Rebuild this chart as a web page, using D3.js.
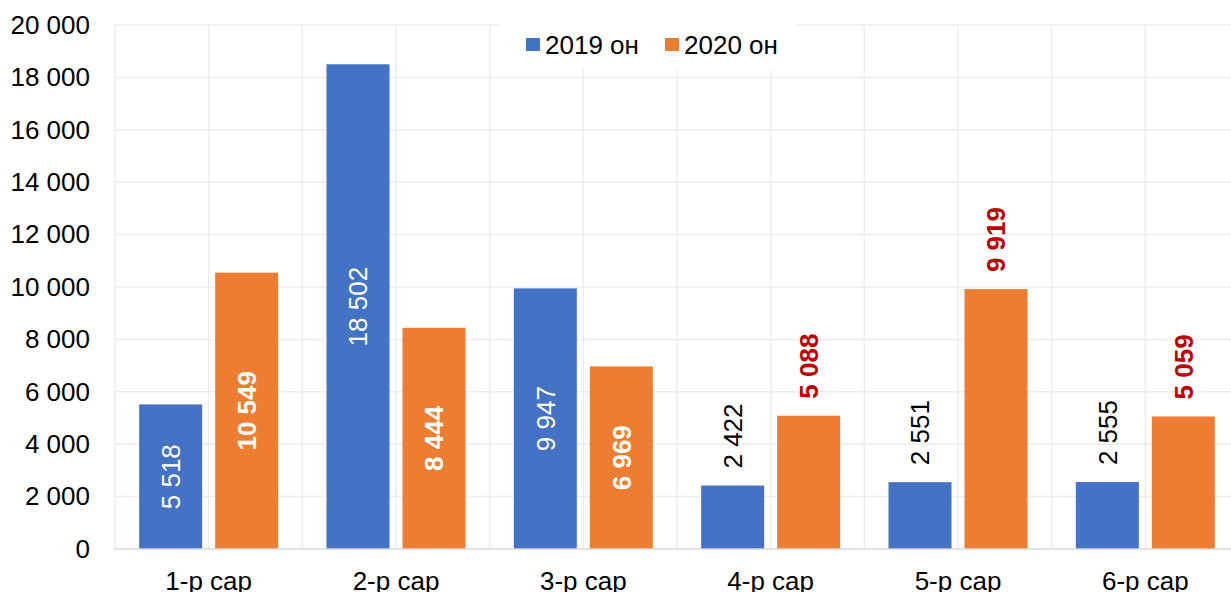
<!DOCTYPE html>
<html>
<head>
<meta charset="utf-8">
<script src="https://cdn.jsdelivr.net/npm/d3@7"></script>
<style>
  html, body { margin: 0; padding: 0; background: #fff; }
  svg { display: block; font-family: "Liberation Sans", Arial, sans-serif; }
</style>
</head>
<body>
<svg width="1231" height="592"></svg>
<script>
// data
const months = ["1-р сар", "2-р сар", "3-р сар", "4-р сар", "5-р сар", "6-р сар"];
const seriesNames = ["2019 он", "2020 он"];
const values2019 = [5518, 18502, 9947, 2422, 2551, 2555];
const values2020 = [10549, 8444, 6969, 5088, 9919, 5059];
const yTicks = [0, 2000, 4000, 6000, 8000, 10000, 12000, 14000, 16000, 18000, 20000];
// which labels sit inside the bar
const inside2019 = [true, true, true, false, false, false];
const inside2020 = [true, true, true, false, false, false];

const colors = { "2019 он": "#4472C4", "2020 он": "#ED7D31" };

const svg = d3.select("svg");
const plotLeft = 115, plotRight = 1239, plotTop = 25, plotBottom = 549;

const x0 = d3.scaleBand().domain(months).range([plotLeft, plotRight]).padding(0);
const x1 = d3.scaleBand().domain(seriesNames).range([0, x0.bandwidth()])
  .paddingInner(0.171).paddingOuter(0.318);
const y = d3.scaleLinear().domain([0, 20000]).range([plotBottom, plotTop]);

const fmt = v => d3.format(",")(v).replace(/,/g, " ");

// horizontal gridlines
svg.append("g").selectAll("line").data(yTicks.slice(1)).join("line")
  .attr("x1", plotLeft).attr("x2", 1231)
  .attr("y1", d => y(d)).attr("y2", d => y(d))
  .attr("stroke", "#ECECEC").attr("stroke-width", 1.5);

// vertical gridlines (category edges and centres)
const vx = [];
months.forEach(m => { vx.push(x0(m)); vx.push(x0(m) + x0.bandwidth() / 2); });
svg.append("g").selectAll("line").data(vx).join("line")
  .attr("x1", d => d).attr("x2", d => d)
  .attr("y1", plotTop).attr("y2", plotBottom)
  .attr("stroke", "#ECECEC").attr("stroke-width", 1.5);

// bars
const rows = months.map((m, i) => ({
  month: m,
  items: [
    { s: "2019 он", v: values2019[i], inside: inside2019[i] },
    { s: "2020 он", v: values2020[i], inside: inside2020[i] }
  ]
}));

const groups = svg.append("g").selectAll("g").data(rows).join("g")
  .attr("transform", d => `translate(${x0(d.month)},0)`);

groups.selectAll("rect").data(d => d.items).join("rect")
  .attr("x", d => x1(d.s))
  .attr("width", x1.bandwidth())
  .attr("y", d => y(d.v))
  .attr("height", d => y(0) - y(d.v))
  .attr("fill", d => colors[d.s]);

// data labels, rotated
groups.selectAll("text").data(d => d.items).join("text")
  .attr("transform", d => {
    const cx = x1(d.s) + x1.bandwidth() / 2;
    const cy = d.inside ? (y(d.v) + y(0)) / 2 : y(d.v) - 17;
    return `translate(${cx},${cy}) rotate(-90)`;
  })
  .attr("dy", "0.36em")
  .attr("text-anchor", d => d.inside ? "middle" : "start")
  .attr("font-size", 26)
  .attr("font-weight", d => d.s === "2020 он" ? "bold" : "normal")
  .attr("fill", d => d.inside ? "#fff" : (d.s === "2020 он" ? "#C00000" : "#000"))
  .text(d => fmt(d.v));

// x axis line
svg.append("line")
  .attr("x1", plotLeft).attr("x2", 1231)
  .attr("y1", plotBottom).attr("y2", plotBottom)
  .attr("stroke", "#D9D9D9").attr("stroke-width", 1.5);

// y axis labels
const yAxis = d3.axisLeft(y).tickValues(yTicks).tickFormat(fmt).tickSize(0).tickPadding(0);
const ya = svg.append("g").attr("transform", "translate(90,0)").call(yAxis);
ya.select(".domain").remove();
ya.selectAll("text").attr("font-size", 26).attr("fill", "#000")
  .attr("font-family", "Liberation Sans, Arial, sans-serif");

// x axis labels
const xAxis = d3.axisBottom(x0).tickSize(0).tickPadding(0);
const xa = svg.append("g").attr("transform", `translate(0,${plotBottom})`).call(xAxis);
xa.select(".domain").remove();
xa.selectAll("text").attr("font-size", 26).attr("fill", "#000")
  .attr("dy", null).attr("y", 41)
  .attr("font-family", "Liberation Sans, Arial, sans-serif");

// legend
const lg = svg.append("g");
lg.append("rect").attr("x", 500).attr("y", 0).attr("width", 296).attr("height", 69).attr("fill", "#fff");
const legendX = [526, 665];
seriesNames.forEach((s, i) => {
  lg.append("rect").attr("x", legendX[i]).attr("y", 38).attr("width", 14).attr("height", 13)
    .attr("fill", colors[s]);
  lg.append("text").attr("x", legendX[i] + 19).attr("y", 54)
    .attr("font-size", 26).attr("fill", "#000").text(s);
});
</script>
</body>
</html>
